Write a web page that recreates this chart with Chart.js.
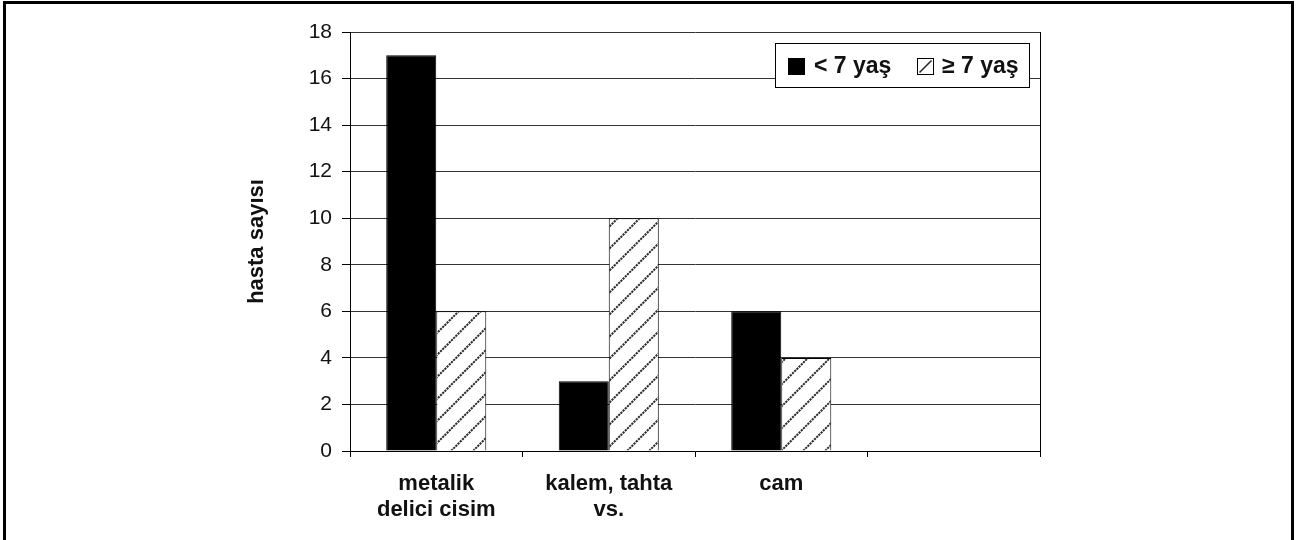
<!DOCTYPE html>
<html>
<head>
<meta charset="utf-8">
<script src="https://cdn.jsdelivr.net/npm/chart.js@4/dist/chart.umd.min.js"></script>
<style>
  html, body { margin: 0; padding: 0; background: #fff; }
  #wrap { position: relative; width: 1297px; height: 540px; overflow: hidden; }
  #frame { position: absolute; left: 3px; top: 1px; width: 1285px; height: 600px;
           border: 3px solid #000; border-bottom: none; }
  #c { position: absolute; left: 0; top: 0; }
</style>
</head>
<body>
<div id="wrap">
  <div id="frame"></div>
  <canvas id="c" width="1297" height="540"></canvas>
</div>
<script>
// Object types (the fourth slot is left empty on purpose)
const categories = [["metalik", "delici cisim"], ["kalem, tahta", "vs."], "cam", ""];
// Patient counts per age group
const under7 = [17, 3, 6, null];
const over7  = [6, 10, 4, null];
const seriesLabels = ["< 7 yaş", "≥ 7 yaş"];
const yAxisTitle = "hasta sayısı";
const yMin = 0, yMax = 18, yStep = 2;

const FONT = "'Liberation Sans', Arial, Helvetica, sans-serif";

// Diagonal "/" hatch used for the second series
function makeHatch() {
  const p = 22;
  const c = document.createElement('canvas');
  c.width = p; c.height = p;
  const g = c.getContext('2d');
  g.fillStyle = '#fff';
  g.fillRect(0, 0, p, p);
  g.strokeStyle = '#2a2a2a';
  g.lineWidth = 2;
  g.setLineDash([2.2, 0.9]);
  g.beginPath();
  g.moveTo(-2, p + 2); g.lineTo(p + 2, -2);
  g.moveTo(-2, 2); g.lineTo(2, -2);
  g.moveTo(p - 2, p + 2); g.lineTo(p + 2, p - 2);
  g.stroke();
  return document.getElementById('c').getContext('2d').createPattern(c, 'repeat');
}
const hatch = makeHatch();

// Right-hand border of the plot area
const plotFrame = {
  id: 'plotFrame',
  beforeDatasetsDraw(chart) {
    const { ctx, chartArea: a } = chart;
    ctx.save();
    ctx.strokeStyle = '#000';
    ctx.lineWidth = 1;
    ctx.beginPath();
    ctx.moveTo(Math.round(a.right) + 0.5, a.top);
    ctx.lineTo(Math.round(a.right) + 0.5, a.bottom + 6);
    ctx.stroke();
    ctx.restore();
  }
};

// Boxed legend in the upper right corner of the plot
const boxedLegend = {
  id: 'boxedLegend',
  afterDraw(chart) {
    const { ctx } = chart;
    const ds = chart.data.datasets;
    const bx = 775.5, by = 43.5, bw = 254, bh = 44;
    ctx.save();
    ctx.fillStyle = '#fff';
    ctx.fillRect(bx, by, bw, bh);
    ctx.strokeStyle = '#000';
    ctx.lineWidth = 1;
    ctx.strokeRect(bx, by, bw, bh);

    ctx.font = 'bold 23px ' + FONT;
    ctx.textBaseline = 'middle';
    const cy = by + bh / 2;
    const sw = 16;
    const items = [
      { x: 788, tx: 814 },
      { x: 917, tx: 942 }
    ];
    ds.forEach((d, i) => {
      const it = items[i];
      const sx = it.x + 0.5, sy = Math.round(cy - sw / 2) + 0.5;
      if (i === 0) {
        ctx.fillStyle = d.backgroundColor;
        ctx.fillRect(sx, sy, sw, sw);
      } else {
        ctx.fillStyle = '#fff';
        ctx.fillRect(sx, sy, sw, sw);
        ctx.strokeStyle = '#2a2a2a';
        ctx.lineWidth = 1.6;
        ctx.beginPath();
        ctx.moveTo(sx + 2, sy + sw - 2);
        ctx.lineTo(sx + sw - 2, sy + 2);
        ctx.stroke();
      }
      ctx.strokeStyle = '#000';
      ctx.lineWidth = 1;
      ctx.strokeRect(sx, sy, sw, sw);
      ctx.fillStyle = '#111';
      ctx.fillText(d.label, it.tx, cy + 1);
    });
    ctx.restore();
  }
};

new Chart(document.getElementById('c'), {
  type: 'bar',
  data: {
    labels: categories,
    datasets: [
      { label: seriesLabels[0], data: under7, backgroundColor: '#000',
        borderColor: '#000', borderWidth: 1 },
      { label: seriesLabels[1], data: over7, backgroundColor: hatch,
        borderColor: '#000', borderWidth: 1 }
    ]
  },
  options: {
    responsive: false,
    animation: false,
    devicePixelRatio: 1,
    layout: { padding: { left: 244, top: 32, right: 257, bottom: 0 } },
    datasets: { bar: { categoryPercentage: 0.58, barPercentage: 1.0 } },
    plugins: { legend: { display: false }, tooltip: { enabled: false } },
    scales: {
      x: {
        offset: true,
        grid: { offset: true, drawOnChartArea: false, drawTicks: true, tickLength: 6,
                color: '#000', lineWidth: 1 },
        border: { color: '#000', width: 1 },
        ticks: { color: '#111', font: { family: FONT, size: 22, weight: 'bold', lineHeight: 1.18 },
                 padding: 14, maxRotation: 0, autoSkip: false },
        afterFit(s) { s.height = 89; }
      },
      y: {
        min: yMin, max: yMax,
        ticks: { stepSize: yStep, color: '#111', padding: 10,
                 font: { family: FONT, size: 21 } },
        grid: { color: '#333', lineWidth: 1, tickLength: 8, tickColor: '#000' },
        border: { color: '#000', width: 1 },
        title: { display: true, text: yAxisTitle, color: '#111',
                 font: { family: FONT, size: 22, weight: 'bold', lineHeight: 1.2 },
                 padding: { top: 0, bottom: 0 } },
        afterFit(s) { s.width = 106; }
      }
    }
  },
  plugins: [plotFrame, boxedLegend]
});
</script>
</body>
</html>
